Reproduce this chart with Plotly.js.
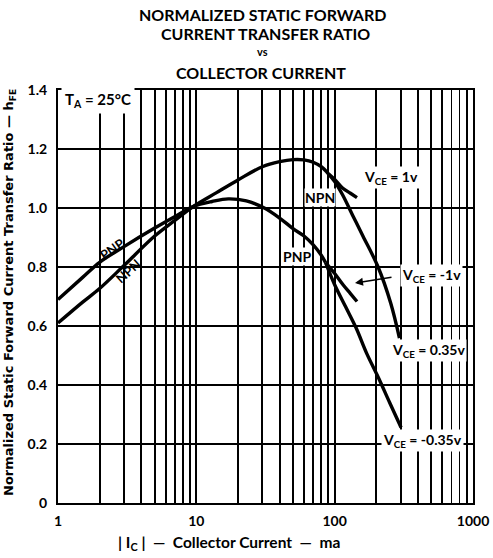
<!DOCTYPE html>
<html>
<head>
<meta charset="utf-8">
<script src="https://cdn.plot.ly/plotly-3.0.1.min.js"></script>
<style>html,body{margin:0;padding:0;background:#fff;}#chart{width:493px;height:558px;}</style>
</head>
<body>
<div id="chart"></div>
<script>
// ---- data (Ic in mA, normalized hFE) ----
const npnMainX = [1, 1.5, 2, 3, 5, 7, 9.5, 14, 20, 30, 40, 50, 60, 70, 80, 90];
const npnMainY = [0.61, 0.68, 0.727, 0.805, 0.905, 0.958, 1.005, 1.052, 1.095, 1.14, 1.157, 1.164, 1.163, 1.155, 1.14, 1.116];
const npn1vX = [90, 100, 114, 130, 145];
const npn1vY = [1.116, 1.097, 1.068, 1.05, 1.035];
const npn035X = [90, 100, 114, 135, 160, 206, 254, 294];
const npn035Y = [1.116, 1.09, 1.045, 0.975, 0.905, 0.80, 0.678, 0.559];

const pnpMainX = [1, 1.5, 2, 3, 5, 7, 9.5, 13, 17, 23, 31, 40, 50, 60, 70, 80, 86];
const pnpMainY = [0.69, 0.764, 0.816, 0.869, 0.932, 0.971, 1.005, 1.022, 1.031, 1.024, 1.0, 0.966, 0.93, 0.905, 0.875, 0.84, 0.815];
const pnp1vX = [86, 100, 115, 130, 145];
const pnp1vY = [0.815, 0.778, 0.74, 0.71, 0.683];
const pnp035X = [86, 100, 120, 143, 170, 208, 250, 302];
const pnp035Y = [0.815, 0.74, 0.665, 0.593, 0.508, 0.423, 0.34, 0.256];

const xTickVals = [1, 10, 100, 1000];
const xTickText = ['1', '10', '100', '1000'];
const xMinorVals = [2,3,4,5,6,7,8,9,20,30,40,50,60,70,80,90,200,300,400,500,600,700,800,900];
const yTickVals = [0, 0.2, 0.4, 0.6, 0.8, 1.0, 1.2, 1.4];
const yTickText = ['0', '0.2', '0.4', '0.6', '0.8', '1.0', '1.2', '1.4'];

const FONT = 'Lato, "Open Sans", sans-serif';
const WIDE = '"DejaVu Sans", sans-serif';
const line = {color: '#000', width: 3.4, shape: 'spline', smoothing: 1};
function tr(x, y) { return {x: x, y: y, type: 'scatter', mode: 'lines', line: line, hoverinfo: 'skip', showlegend: false}; }

const traces = [
  tr(npnMainX, npnMainY), tr(npn1vX, npn1vY), tr(npn035X, npn035Y),
  tr(pnpMainX, pnpMainY), tr(pnp1vX, pnp1vY), tr(pnp035X, pnp035Y)
];

function lab(text, x, y, size, extra, fam) {
  return Object.assign({text: text, xref: 'paper', yref: 'paper', x: x, y: y,
    xanchor: 'center', yanchor: 'middle', showarrow: false,
    font: {family: fam || FONT, size: size, color: '#000', weight: 'bold'}}, extra || {});
}
// pixel helpers for label placement only
const L = 58, R = 473, T = 90, B = 503;
const px = v => (v - L) / (R - L);
const py = v => (B - v) / (B - T);

const annotations = [
  lab('NORMALIZED STATIC FORWARD', px(262), py(14), 16),
  lab('CURRENT TRANSFER RATIO', px(265), py(34), 16),
  lab('vs', px(262), py(52), 11),
  lab('COLLECTOR CURRENT', px(261), py(72), 16),
  lab('Normalized Static Forward Current Transfer Ratio — h<sub>FE</sub>', px(9), py(293), 13, {textangle: -90}, WIDE),
  lab('| I<sub>C</sub> |  —  Collector Current  —  ma', px(229), py(543), 15.5),
  lab('T<sub>A</sub> = 25°C', px(98), py(100), 15, {bgcolor: '#fff', borderpad: 3}),
  lab('V<sub>CE</sub> = 1v', px(391), py(177), 14, {bgcolor: '#fff', borderpad: 1}),
  lab('NPN', px(320), py(197), 14, {bgcolor: '#fff', borderpad: 0}),
  lab('PNP', px(297), py(256), 14, {bgcolor: '#fff', borderpad: 0}),
  lab('V<sub>CE</sub> = -1v', px(431), py(275), 14, {bgcolor: '#fff', borderpad: 1}),
  lab('V<sub>CE</sub> = 0.35v', px(428), py(350), 14, {bgcolor: '#fff', borderpad: 1}),
  lab('V<sub>CE</sub> = -0.35v', px(422), py(440), 14, {bgcolor: '#fff', borderpad: 1}),
  lab('PNP', px(112), py(249), 13, {textangle: -35}),
  lab('NPN', px(128), py(271), 13, {textangle: -42}),
  {xref: 'paper', yref: 'paper', x: px(355), y: py(283), ax: 38, ay: -6, axref: 'pixel', ayref: 'pixel',
   text: '', showarrow: true, arrowhead: 2, arrowsize: 1, arrowwidth: 1.6, arrowcolor: '#000'}
];

const layout = {
  width: 493, height: 558,
  margin: {l: L, r: 493 - R, t: T, b: 558 - B, pad: 0},
  paper_bgcolor: '#fff', plot_bgcolor: '#fff',
  font: {family: FONT, color: '#000'},
  xaxis: {type: 'log', range: [0, 3], tickmode: 'array', tickvals: xTickVals, ticktext: xTickText,
    showgrid: true, gridcolor: '#000', gridwidth: 1.8, showline: true, mirror: true,
    linecolor: '#000', linewidth: 2, ticks: '', zeroline: false,
    minor: {tickmode: 'array', tickvals: xMinorVals, showgrid: true, gridcolor: '#000', gridwidth: 1.8, ticks: ''},
    tickfont: {family: FONT, size: 14, color: '#000', weight: 'bold'}, ticklabelstandoff: 4},
  yaxis: {range: [0, 1.4], tickmode: 'array', tickvals: yTickVals, ticktext: yTickText,
    showgrid: true, gridcolor: '#000', gridwidth: 1.8, showline: true, mirror: true,
    linecolor: '#000', linewidth: 2, ticks: '', zeroline: false,
    tickfont: {family: FONT, size: 14, color: '#000', weight: 'bold'}, ticklabelstandoff: 6},
  annotations: annotations,
  showlegend: false
};

Plotly.newPlot('chart', traces, layout, {staticPlot: true, displayModeBar: false});
</script>
</body>
</html>
